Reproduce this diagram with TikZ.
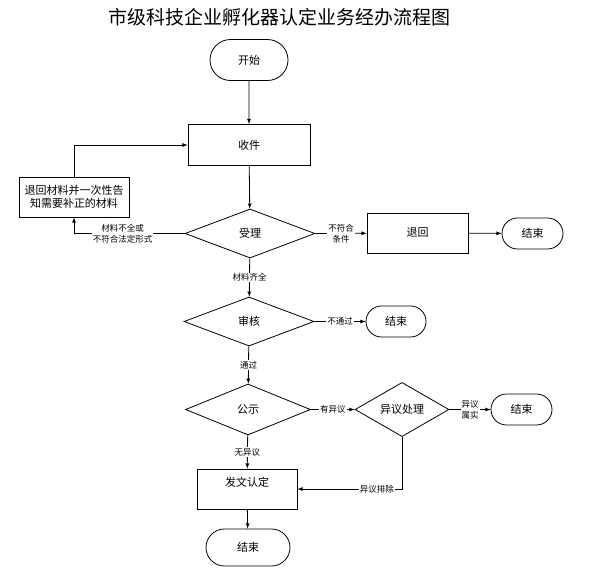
\documentclass[tikz,border=0pt]{standalone}
\usepackage{fontspec}
\setmainfont{Noto Sans CJK SC}
\usetikzlibrary{positioning,arrows,shapes.geometric,shapes.misc}
\tikzset{%
terminal/.style={draw,rounded rectangle,inner sep=1pt,font=\fontsize{11}{13}\selectfont},
procbox/.style={draw,rectangle,inner sep=1pt,font=\fontsize{11}{13}\selectfont,align=center},
flowcond/.style={draw,diamond,inner sep=0pt,font=\fontsize{11}{13}\selectfont},
edgelabel/.style={fill=white,inner sep=1pt,font=\fontsize{8.5}{11}\selectfont,align=center},
titletext/.style={font=\fontsize{19}{21}\selectfont}
}
\begin{document}
\begin{tikzpicture}[x=1pt,y=-1pt,line width=0.8pt,>=latex]
  \useasboundingbox (0,0) rectangle (589,574);

  \node[titletext] (title) at (279,17) {市级科技企业孵化器认定业务经办流程图};

  \node[terminal,minimum width=80pt,minimum height=41pt] (start) at (249,60) {开始};
  \node[procbox,minimum width=122pt,minimum height=41pt] (receive) at (249,145) {收件};
  \node[procbox,minimum width=110pt,minimum height=40pt] (notify) at (74,197)
    {退回材料并一次性告\\知需要补正的材料};
  \node[flowcond,minimum width=130pt,minimum height=49pt] (accept) at (250,233.5) {受理};
  \node[procbox,minimum width=101pt,minimum height=40pt] (reject) at (417.5,233) {退回};
  \node[terminal,minimum width=63pt,minimum height=31pt] (endA) at (532.5,233.5) {结束};
  \node[flowcond,minimum width=130pt,minimum height=49pt] (review) at (249,321.5) {审核};
  \node[terminal,minimum width=62pt,minimum height=31pt] (endB) at (396,321.5) {结束};
  \node[flowcond,minimum width=125pt,minimum height=51pt] (publish) at (248,409.5) {公示};
  \node[flowcond,minimum width=94pt,minimum height=51pt] (objection) at (402,409.5) {异议处理};
  \node[terminal,minimum width=63pt,minimum height=31pt] (endC) at (521.5,409.5) {结束};
  \node[procbox,minimum width=100pt,minimum height=40pt,text depth=14pt] (issue) at (247,489) {发文认定};
  \node[terminal,minimum width=86pt,minimum height=37pt] (endD) at (248,547.5) {结束};

  % main line
  \draw[->] (start) -- (receive);
  \draw[->] (receive) -- (accept);
  \draw[->] (accept) -- node[edgelabel] {材料齐全} (review);
  \draw[->] (review) -- node[edgelabel] {通过} (publish);
  \draw[->] (publish) -- node[edgelabel] {无异议} (issue);
  \draw[->] (issue) -- (endD);

  % side branches
  \draw[->] (accept.west) -| node[edgelabel,pos=0.28] {材料不全或\\不符合法定形式} (notify.south);
  \draw[->] (notify.north) |- (receive.west);
  \draw[->] (accept.east) -- node[edgelabel] {不符合\\条件} (reject);
  \draw[->] (reject) -- (endA);
  \draw[->] (review.east) -- node[edgelabel] {不通过} (endB);
  \draw[->] (publish.east) -- node[edgelabel] {有异议} (objection.west);
  \draw[->] (objection.east) -- node[edgelabel] {异议\\属实} (endC);
  \draw[->] (objection.south) |- node[edgelabel,pos=0.62] {异议排除} (issue.east);

\end{tikzpicture}
\end{document}
